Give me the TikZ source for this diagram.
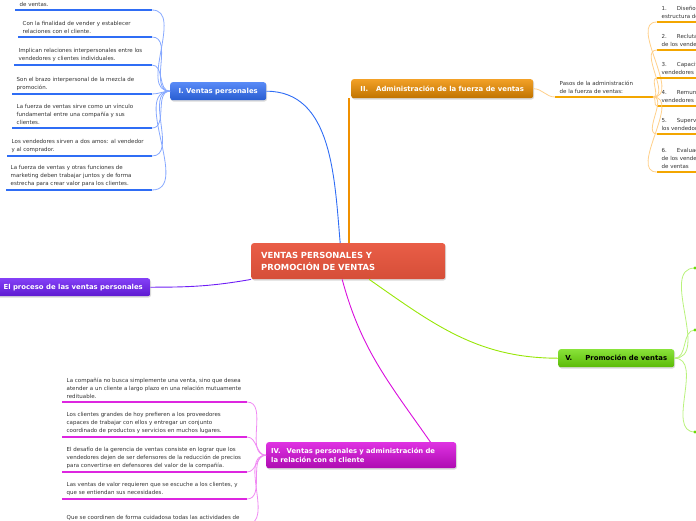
\documentclass[tikz,border=0pt]{standalone}
\usepackage{fontspec}
\setmainfont{DejaVu Sans}
\usetikzlibrary{shadows}
\definecolor{cred}{HTML}{E8553D}
\definecolor{cblue}{HTML}{2F6DF5}
\definecolor{cblueL}{HTML}{86A8FF}
\definecolor{corange}{HTML}{F09000}
\definecolor{corangeL}{HTML}{FFD08A}
\definecolor{cpurple}{HTML}{6E1EF5}
\definecolor{cmag}{HTML}{D90EDD}
\definecolor{cmagL}{HTML}{F08AF3}
\definecolor{cgreen}{HTML}{6BDB08}
\definecolor{cgreenL}{HTML}{B9F27C}
\begin{document}
\begin{tikzpicture}[x=1pt,y=-1pt,
  leaf/.style={font=\fontsize{5.5}{7.7}\selectfont, align=left, inner xsep=4.5pt, inner ysep=3.5pt, anchor=south west, text=black!80},
  topic/.style={rounded corners=2.5pt, font=\fontsize{6.9}{9}\selectfont\bfseries, text=white, inner sep=0pt, anchor=north west,
    drop shadow={shadow xshift=0.8pt,shadow yshift=-1.3pt,opacity=0.3}},
  ulb/.style={draw=cblue, line width=2.2pt},
  ulo/.style={draw=corange!80!yellow, line width=2.2pt},
  ulm/.style={draw=cmag!90!white, line width=2.2pt},
  conb/.style={draw=cblueL, line width=0.8pt},
  cono/.style={draw=corangeL, line width=0.8pt},
  conm/.style={draw=cmagL, line width=0.8pt},
  cong/.style={draw=cgreenL, line width=0.8pt},
]
\useasboundingbox (0,0) rectangle (696,520);
\clip (0,0) rectangle (696,520);

% main topics
\node[topic, top color=cred!95!white, bottom color=cred!92!black, minimum width=194pt, minimum height=36pt,
  text width=174pt, inner xsep=10pt, align=left, font=\fontsize{8.4}{11.6}\selectfont\bfseries] (c) at (251,243)
  {VENTAS PERSONALES Y\\PROMOCIÓN DE VENTAS};
\node[topic, top color=cblue!80!white, bottom color=cblue!85!black, minimum width=96pt, minimum height=18pt] (vp) at (170,82)
  {I. Ventas personales};
\node[topic, top color=corange!85!white, bottom color=corange!80!black, minimum width=182pt, minimum height=19pt] (af) at (351,79)
  {II.\hspace{8pt}Administración de la fuerza de ventas};
\node[topic, top color=cpurple!85!white, bottom color=cpurple!85!black, minimum width=154pt, minimum height=18pt] (pr) at (-4,278)
  {El proceso de las ventas personales};
\node[topic, top color=cmag!85!white, bottom color=cmag!80!black, minimum width=190pt, minimum height=26pt,
  text width=180pt, inner xsep=5pt, align=left, font=\fontsize{6.8}{9.4}\selectfont\bfseries] (iv) at (266,442)
  {IV.\hspace{6pt}Ventas personales y administración de\\la relación con el cliente};
\node[topic, top color=cgreen!80!white, bottom color=cgreen!85!black, minimum width=116pt, minimum height=18pt, text=black] (pv) at (558,349)
  {V.\hspace{13pt}Promoción de ventas};

% central connectors
\draw[draw=cblue, line width=0.9pt] ([xshift=-8pt]c.north) to[out=95,in=0] (vp.east);
\draw[draw=corange, line width=1.2pt] ([xshift=-2pt]c.north -| af.south west) -- ([xshift=-2pt]af.south west);
\draw[draw=cpurple, line width=0.9pt] (pr.east) to[out=0,in=190] (c.south west);
\draw[draw=cmag, line width=0.9pt] ([xshift=-6pt]c.south) to[out=-75,in=125] ([xshift=-26pt]iv.north east);
\draw[draw=cgreen!70!yellow, line width=0.9pt] ([xshift=21pt]c.south) to[out=-35,in=180] (pv.west);

% blue leaves
\node[leaf] (b0) at (15,10) {de ventas.};
\node[leaf] (b1) at (18,37) {Con la finalidad de vender y establecer\\relaciones con el cliente.};
\node[leaf] (b2) at (14,65) {Implican relaciones interpersonales entre los\\vendedores y clientes individuales.};
\node[leaf] (b3) at (12,94) {Son el brazo interpersonal de la mezcla de\\promoción.};
\node[leaf] (b4) at (12,128) {La fuerza de ventas sirve como un vínculo\\fundamental entre una compañía y sus\\clientes.};
\node[leaf] (b5) at (7,156) {Los vendedores sirven a dos amos: al vendedor\\y al comprador.};
\node[leaf] (b6) at (6,190) {La fuerza de ventas y otras funciones de\\marketing deben trabajar juntos y de forma\\estrecha para crear valor para los clientes.};
\foreach \n/\y in {b0/10,b1/37,b2/65,b3/94,b4/128,b5/156,b6/190}{
  \coordinate (\n e) at (152,\y);
  \draw[ulb] (\n.south west) -- (\n e);
  \draw[conb] (\n e) to[out=0,in=180] (vp.west);
}

% orange leaves
\node[leaf] (pa) at (555,97) {Pasos de la administración\\de la fuerza de ventas:};
\coordinate (pae) at (653,97);
\draw[ulo] (pa.south west) -- (pae);
\draw[cono] (af.east) to[out=0,in=180] (pa.south west);
\node[leaf] (o1) at (657,22) {1.\hspace{10pt}Diseño de la estrategia y la\\estructura de la fuerza de ventas};
\node[leaf] (o2) at (657,50) {2.\hspace{10pt}Reclutamiento y selección\\de los vendedores};
\node[leaf] (o3) at (657,78) {3.\hspace{10pt}Capacitación de los\\vendedores};
\node[leaf] (o4) at (657,106) {4.\hspace{10pt}Remuneración de los\\vendedores};
\node[leaf] (o5) at (657,134) {5.\hspace{10pt}Supervisión de\\los vendedores};
\node[leaf] (o6) at (657,172) {6.\hspace{10pt}Evaluación del desempeño\\de los vendedores y de la fuerza\\de ventas};
\foreach \n/\y in {o1/22,o2/50,o3/78,o4/106,o5/134,o6/172}{
  \coordinate (\n e) at (710,\y);
  \draw[ulo] (\n.south west) -- (\n e);
  \draw[cono] (pae) to[out=0,in=180] (\n.south west);
}

% magenta leaves
\node[leaf] (m1) at (62,402) {La compañía no busca simplemente una venta, sino que desea\\atender a un cliente a largo plazo en una relación mutuamente\\redituable.};
\node[leaf] (m2) at (62,437) {Los clientes grandes de hoy prefieren a los proveedores\\capaces de trabajar con ellos y entregar un conjunto\\coordinado de productos y servicios en muchos lugares.};
\node[leaf] (m3) at (62,472) {El desafío de la gerencia de ventas consiste en lograr que los\\vendedores dejen de ser defensores de la reducción de precios\\para convertirse en defensores del valor de la compañía.};
\node[leaf] (m4) at (62,499) {Las ventas de valor requieren que se escuche a los clientes, y\\que se entiendan sus necesidades.};
\node[leaf] (m5) at (62,524) {Que se coordinen de forma cuidadosa todas las actividades de};
\foreach \n/\y in {m1/402,m2/437,m3/472,m4/499,m5/524}{
  \coordinate (\n e) at (247,\y);
  \draw[ulm] (\n.south west) -- (\n e);
  \draw[conm] (\n e) to[out=0,in=180] (iv.west);
}

% green leaves (off canvas)
\foreach \n/\y in {g1/268,g2/330,g3/432}{
  \coordinate (\n) at (695,\y);
  \draw[cong] (pv.east) to[out=0,in=180] (\n);
  \fill[cgreen] (\n) circle (1.6pt);
}
\end{tikzpicture}
\end{document}
